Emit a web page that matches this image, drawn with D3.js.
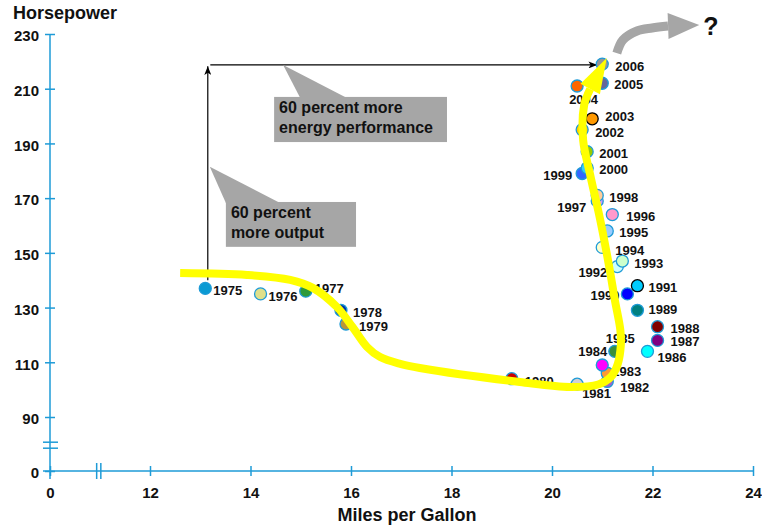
<!DOCTYPE html>
<html><head><meta charset="utf-8">
<script src="https://cdn.jsdelivr.net/npm/d3@7"></script>
<style>
body{margin:0;background:#fff}
svg{display:block;font-family:Arial,"Liberation Sans",Helvetica,sans-serif}
</style>
</head><body>
<svg id="chart" width="762" height="529"></svg>
<script>
// ---- data ----
const years = [1975,1976,1977,1978,1979,1980,1981,1982,1983,1984,1985,1986,1987,1988,1989,1990,
  1991,1992,1993,1994,1995,1996,1997,1998,1999,2000,2001,2002,2003,2004,2005,2006];
const mpg = [13.1,14.2,15.1,15.8,15.9,19.2,20.5,21.1,21.1,21.0,21.25,21.9,22.1,22.1,21.7,21.5,
  21.7,21.3,21.4,21.0,21.1,21.2,20.9,20.9,20.6,20.7,20.7,20.6,20.8,20.5,21.0,21.0];
const horsepower = [137,135,136,129,124,104,102,103,106,109,114,114,118,123,129,135,
  138,145,147,152,158,164,169,171,179,181,187,195,199,211,212,219];
const xTicks = [0,12,14,16,18,20,22,24];
const yTicks = [0,90,110,130,150,170,190,210,230];
const xTitle = "Miles per Gallon";
const yTitle = "Horsepower";
// annotation texts
const calloutOutput = ["60 percent", "more output"];
const calloutEnergy = ["60 percent more", "energy performance"];
// trend curve (freehand) in data units [mpg, hp]
const trendCurve = [[12.60,142.6],[13.93,141.9],[14.79,140.1],[15.24,137.2],[15.72,130.2],[16.03,122.9],
  [16.32,115.6],[16.58,111.9],[16.98,109.4],[17.37,107.9],[19.36,102.8],[20.36,101.0],[20.92,101.9],
  [21.18,104.8],[21.31,109.5],[21.37,116.3],[21.36,121.8],[21.25,132.8],[21.15,143.7],[20.96,162.0],
  [20.76,178.5],[20.62,191.2],[20.64,204.0],[20.76,209.9]];
const trendTip = [21.09,221.2];
const futureCurve = [[21.29,223.0],[21.41,227.8],[21.69,231.1],[21.99,232.2],[22.31,232.9]];
const futureTip = [22.93,233.3];

// ---- styles (per point) ----
const pointColors = ["#0a9ad3","#dfe08a","#2e9a3a","#0033aa","#b8963a","#cc0000","#d0d0d0","#9966cc",
  "#ff9933","#ff00ff","#3a8f3a","#00ffff","#800080","#800000","#008080","#0000ff",
  "#00ccff","#ccffff","#ccffcc","#ffffcc","#99ccff","#ff99cc","#cc99ff","#ffcc99",
  "#3366ff","#33ccff","#99cc00","#ffcc00","#ff9900","#ff6600","#666699","#969696"];
const blackBorder = new Set([1991,2003]);
// label placement offsets [dx, dy, anchor]
const labelPlacement = {
  1975:[8,7,"start"],1976:[8,7,"start"],1977:[9,2,"start"],1978:[12,7,"start"],1979:[13,7,"start"],
  1980:[13,7,"start"],1981:[5,14,"start"],1982:[13,11,"start"],1983:[5,3,"start"],1984:[5,-9,"end"],
  1985:[-9,-8,"start"],1986:[10,11,"start"],1987:[13,6,"start"],1988:[13,6,"start"],1989:[11,4,"start"],
  1990:[-8,6,"end"],1991:[11,6,"start"],1992:[-10,10,"end"],1993:[12,7,"start"],1994:[13,8,"start"],
  1995:[12,6,"start"],1996:[14,6,"start"],1997:[-11,11,"end"],1998:[12,7,"start"],1999:[-10,6,"end"],
  2000:[12,6,"start"],2001:[12,6,"start"],2002:[13,7,"start"],2003:[13,2,"start"],2004:[-8,18,"start"],
  2005:[12,6,"start"],2006:[13,7,"start"]
};

const AX = "#1e9bd7";
const svg = d3.select("#chart");
const x = d3.scaleLinear().domain([0,12,24]).range([50,150,753]);
const y = d3.scaleLinear().domain([0,90,230]).range([471,417,34]);

// ---- axes ----
const gx = svg.append("g").attr("transform",`translate(0,${y(0)})`)
  .call(d3.axisBottom(x).tickValues(xTicks).tickSize(5).tickPadding(11).tickFormat(d3.format("d")));
gx.attr("font-family",null);
gx.select(".domain").remove();
gx.selectAll(".tick line").attr("y1",-5).attr("stroke",AX).attr("stroke-width",1.5);
gx.selectAll(".tick text").attr("font-size",15).attr("font-weight","bold").attr("fill","#111");
svg.append("line").attr("x1",x(0)-7).attr("x2",x(24)).attr("y1",y(0)).attr("y2",y(0))
  .attr("stroke",AX).attr("stroke-width",1.5);

const gy = svg.append("g").attr("transform",`translate(${x(0)},0)`)
  .call(d3.axisLeft(y).tickValues(yTicks).tickSize(5).tickPadding(6).tickFormat(d3.format("d")));
gy.attr("font-family",null);
gy.select(".domain").remove();
gy.selectAll(".tick line").attr("x1",5).attr("stroke",AX).attr("stroke-width",1.5);
gy.selectAll(".tick text").attr("font-size",15).attr("font-weight","bold").attr("fill","#111").attr("dy","0.45em");
svg.append("line").attr("x1",x(0)).attr("x2",x(0)).attr("y1",y(230)).attr("y2",y(0)+8)
  .attr("stroke",AX).attr("stroke-width",1.5);

// axis breaks
[38,48].forEach(v=>svg.append("line").attr("x1",x(0)-7).attr("x2",x(0)+8)
  .attr("y1",y(v)).attr("y2",y(v)).attr("stroke",AX).attr("stroke-width",1.5));
[5.6,6.1].forEach(v=>svg.append("line").attr("x1",x(v)).attr("x2",x(v))
  .attr("y1",y(0)-8).attr("y2",y(0)+8).attr("stroke",AX).attr("stroke-width",1.5));

// titles
svg.append("text").attr("x",13).attr("y",19).attr("font-size",18).attr("font-weight","bold")
  .attr("fill","#111").text(yTitle);
svg.append("text").attr("x",407).attr("y",520.5).attr("text-anchor","middle").attr("font-size",18)
  .attr("font-weight","bold").attr("fill","#111").text(xTitle);

// ---- black arrows ----
const defs = svg.append("defs");
defs.append("marker").attr("id","ah").attr("viewBox","0 0 10 8").attr("refX",10).attr("refY",4)
  .attr("markerWidth",9).attr("markerHeight",7).attr("markerUnits","userSpaceOnUse").attr("orient","auto")
  .append("path").attr("d","M0,0L10,4L0,8L2.5,4Z").attr("fill","#000");
svg.append("line").attr("x1",x(13.15)).attr("x2",x(13.15)).attr("y1",y(140)).attr("y2",y(218.2))
  .attr("stroke","#000").attr("stroke-width",1.2).attr("marker-end","url(#ah)");
svg.append("line").attr("x1",x(13.2)).attr("x2",x(20.9)).attr("y1",y(218.7)).attr("y2",y(218.7))
  .attr("stroke","#000").attr("stroke-width",1.2).attr("marker-end","url(#ah)");

// ---- callouts ----
const GREY = "#a6a6a6";
function callout(x0,x1,yTop,yBot,tip,base0,base1,lines,tx,ty){
  svg.append("path").attr("d",`M${x(tip[0])},${y(tip[1])}L${x(base0)},${y(yTop)+1}L${x(base1)},${y(yTop)+1}Z`).attr("fill",GREY);
  svg.append("rect").attr("x",x(x0)).attr("y",y(yTop)).attr("width",x(x1)-x(x0)).attr("height",y(yBot)-y(yTop)).attr("fill",GREY);
  lines.forEach((l,i)=>svg.append("text").attr("x",tx).attr("y",ty+i*19.5).attr("font-size",16)
    .attr("font-weight","bold").attr("fill","#111").text(l));
}
callout(14.47,17.91,207,190.5,[14.65,218.7],14.99,15.92,calloutEnergy,x(14.47)+5,113);
callout(13.51,16.10,168.6,152.2,[13.19,181.5],13.51,14.59,calloutOutput,x(13.51)+5,218);

// ---- points ----
const pts = years.map((yr,i)=>({yr,m:mpg[i],h:horsepower[i],c:pointColors[i]}));
svg.append("g").selectAll("circle").data(pts).join("circle")
  .attr("cx",d=>x(d.m)).attr("cy",d=>y(d.h)).attr("r",6)
  .attr("fill",d=>d.c).attr("stroke",d=>blackBorder.has(d.yr)?"#000":AX).attr("stroke-width",1.3);
svg.append("g").selectAll("text").data(pts).join("text")
  .attr("x",d=>x(d.m)+labelPlacement[d.yr][0]).attr("y",d=>y(d.h)+labelPlacement[d.yr][1])
  .attr("text-anchor",d=>labelPlacement[d.yr][2])
  .attr("font-size",13).attr("font-weight","bold").attr("fill","#111").text(d=>d.yr);

// ---- trend curves ----
const line = d3.line().x(d=>x(d[0])).y(d=>y(d[1])).curve(d3.curveCatmullRom.alpha(0.5));
function arrowHead(base,tip,hw,color){
  const bx=x(base[0]),by=y(base[1]),tx=x(tip[0]),ty=y(tip[1]);
  const dx=tx-bx,dy=ty-by,L=Math.hypot(dx,dy),px=-dy/L*hw,py=dx/L*hw;
  svg.append("path").attr("d",`M${tx},${ty}L${bx+px},${by+py}L${bx-px},${by-py}Z`).attr("fill",color);
}
svg.append("path").attr("d",line(trendCurve)).attr("fill","none").attr("stroke","#ffff00")
  .attr("stroke-width",8).attr("stroke-linecap","butt").attr("stroke-linejoin","round");
arrowHead(trendCurve[trendCurve.length-1],trendTip,11,"#ffff00");

svg.append("path").attr("d",line(futureCurve)).attr("fill","none").attr("stroke",GREY)
  .attr("stroke-width",9);
arrowHead(futureCurve[futureCurve.length-1],futureTip,13,GREY);
svg.append("text").attr("x",x(22.93)+4).attr("y",35).attr("font-size",25).attr("font-weight","bold")
  .attr("fill","#111").text("?");
</script>
</body></html>
